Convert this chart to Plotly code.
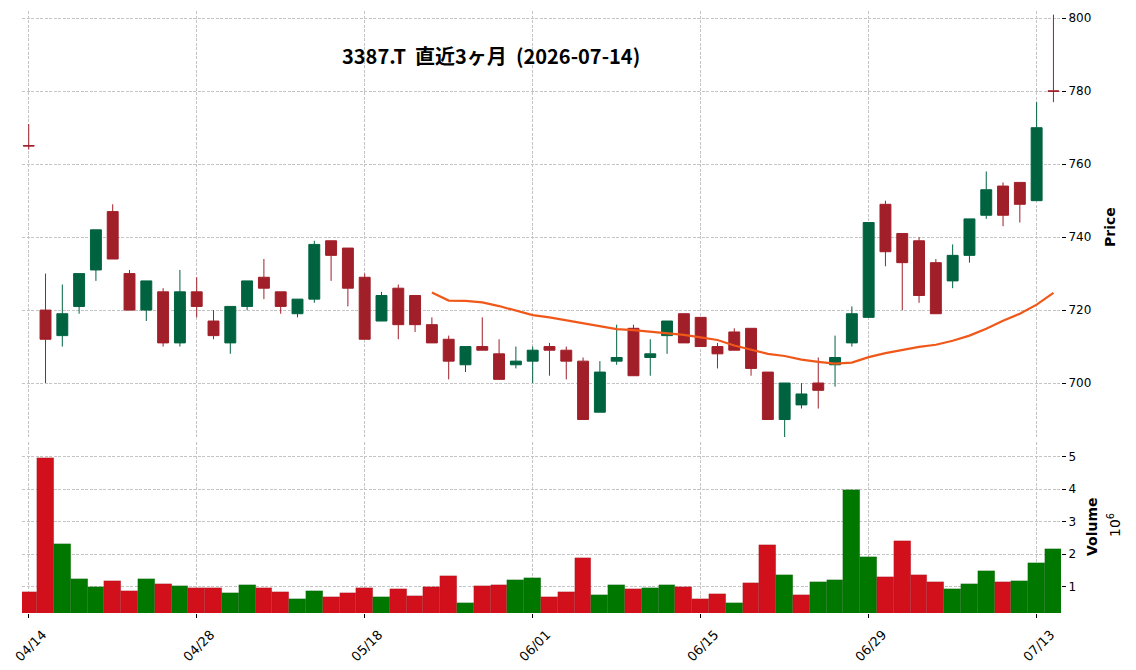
import plotly.graph_objects as go

# ---- data -------------------------------------------------------------
dates = ["04/14", "04/15", "04/16", "04/17", "04/20", "04/21", "04/22", "04/23", "04/24", "04/27",
         "04/28", "04/30", "05/01", "05/07", "05/08", "05/11", "05/12", "05/13", "05/14", "05/15",
         "05/18", "05/19", "05/20", "05/21", "05/22", "05/25", "05/26", "05/27", "05/28", "05/29",
         "06/01", "06/02", "06/03", "06/04", "06/05", "06/08", "06/09", "06/10", "06/11", "06/12",
         "06/15", "06/16", "06/17", "06/18", "06/19", "06/22", "06/23", "06/24", "06/25", "06/26",
         "06/29", "06/30", "07/01", "07/02", "07/03", "07/06", "07/07", "07/08", "07/09", "07/10",
         "07/13", "07/14"]

opens = [765.1, 720, 713, 721, 731, 747, 730, 720, 725, 711,
         725, 717, 711, 721, 729, 725, 719, 723, 739, 737,
         729, 717, 726, 724, 716, 712, 705, 710, 708, 705,
         706, 710, 709, 706, 692, 706, 715, 707, 713, 719,
         718, 710, 714, 715, 703, 690, 694, 700, 705, 711,
         718, 749, 741, 739, 733, 728, 735, 746, 754, 755,
         750, 780.1]
highs = [771, 730, 727, 730, 742, 749, 731, 728, 726, 731,
         729, 720, 721, 728, 734, 725, 723, 739, 739, 737,
         730, 725, 727, 724, 718, 713, 710, 718, 712, 710,
         710, 711, 710, 707, 706, 716, 716, 712, 717, 719,
         718, 711, 715, 715, 703, 700, 700, 707, 713, 721,
         744, 750, 741, 740, 734, 738, 745, 758, 755, 755,
         777, 801]
lows = [764, 700, 710, 719, 728, 734, 720, 717, 710, 710,
        718, 712, 708, 720, 723, 719, 718, 722, 728, 721,
        712, 717, 712, 714, 711, 701, 703, 709, 701, 704,
        700, 702, 701, 690, 692, 705, 702, 702, 708, 711,
        710, 704, 709, 702, 690, 685, 693, 693, 699, 710,
        718, 732, 720, 722, 719, 726, 733, 745, 743, 744,
        750, 777]
closes = [765, 712, 719, 730, 742, 734, 720, 728, 711, 725,
          721, 713, 721, 728, 726, 721, 723, 738, 735, 726,
          712, 724, 716, 716, 711, 706, 710, 709, 701, 706,
          709, 709, 706, 690, 703, 707, 702, 708, 717, 711,
          710, 708, 709, 704, 690, 700, 697, 698, 707, 719,
          744, 736, 733, 724, 719, 735, 745, 753, 746, 749,
          770, 780]
volumes = [850000, 4950000, 2320000, 1250000, 1000000, 1180000, 880000, 1250000, 1090000, 1030000,
           970000, 970000, 820000, 1060000, 970000, 850000, 630000, 880000, 690000, 820000,
           970000, 690000, 940000, 720000, 1000000, 1340000, 510000, 1030000, 1060000, 1220000,
           1280000, 690000, 850000, 1890000, 750000, 1060000, 940000, 970000, 1060000, 1000000,
           630000, 780000, 510000, 1120000, 2290000, 1370000, 750000, 1150000, 1220000, 3980000,
           1920000, 1310000, 2420000, 1370000, 1150000, 940000, 1090000, 1490000, 1150000, 1180000,
           1740000, 2170000]
ma25 = [None] * 24 + [724.8, 722.6, 722.5, 722.1, 721.1, 719.8,
                      718.6, 718.0, 717.2, 716.3, 715.4, 714.8, 714.5, 714.1, 713.6, 713.2,
                      712.5, 711.8, 710.3, 709.1, 708.0, 707.4, 706.4, 705.8, 705.3, 705.6,
                      707.1, 708.2, 709.1, 709.9, 710.5, 711.6, 713.0, 714.9, 717.1, 719.0,
                      721.5, 724.7]

tick_labels = ["04/14", "04/28", "05/18", "06/01", "06/15", "06/29", "07/13"]
price_ticks = [700, 720, 740, 760, 780, 800]
vol_ticks = [1000000, 2000000, 3000000, 4000000, 5000000]
vol_tick_text = ["1", "2", "3", "4", "5"]
title_text = "3387.T\u00a0\u00a0直近3ヶ月\u00a0\u00a0(2026-07-14)"

# ---- style ------------------------------------------------------------
UP = "#006340"
DOWN = "#a11f29"
VUP = "#007800"
VDOWN = "#d2101c"
MA_COLOR = "#f0581a"
GRID = "#c4c4c4"
TICKFONT = dict(family="DejaVu Sans", size=12, color="#000000")
XTICKFONT = dict(family="DejaVu Sans", size=13, color="#000000")

vol_colors = []
for i in range(len(closes)):
    ref = opens[i] if i == 0 else closes[i - 1]
    vol_colors.append(VUP if closes[i] > ref else VDOWN)

fig = go.Figure()
fig.add_trace(go.Candlestick(
    x=dates, open=opens, high=highs, low=lows, close=closes,
    increasing=dict(line=dict(color=UP, width=1), fillcolor=UP),
    decreasing=dict(line=dict(color=DOWN, width=1), fillcolor=DOWN),
    whiskerwidth=0, xaxis="x", yaxis="y", showlegend=False, hoverinfo="skip"))
fig.add_trace(go.Scatter(
    x=dates, y=ma25, mode="lines", line=dict(color=MA_COLOR, width=2.2),
    xaxis="x", yaxis="y", showlegend=False, hoverinfo="skip"))
fig.add_trace(go.Bar(
    x=dates, y=volumes, width=1.0,
    marker=dict(color=vol_colors, line=dict(color="rgba(0,0,0,0.18)", width=0.5)),
    xaxis="x", yaxis="y2", showlegend=False, hoverinfo="skip"))

W, H = 1136, 670
L, R, T, B = 22, 75, 11, 57
plot_h = H - T - B
price_bottom = (H - B - 437) / plot_h
vol_top = (H - B - 442) / plot_h


def px_x(px):
    return (px - L) / (W - L - R)


def px_y(py):
    return (H - B - py) / plot_h


fig.update_layout(
    width=W, height=H,
    margin=dict(l=L, r=R, t=T, b=B, pad=0, autoexpand=False),
    paper_bgcolor="white", plot_bgcolor="white",
    boxgap=0.35, boxgroupgap=0, bargap=0,
    xaxis=dict(type="category", range=[-0.4, 61.45], anchor="y2", automargin=False,
               tickmode="array", tickvals=tick_labels, ticktext=tick_labels,
               tickangle=-45, ticks="outside", ticklen=4, tickcolor="#000",
               ticklabelshift=14, ticklabelstandoff=4,
               tickfont=XTICKFONT, showline=False, zeroline=False,
               showgrid=True, gridcolor=GRID, gridwidth=0.8, griddash="3px,1.5px",
               rangeslider=dict(visible=False)),
    yaxis=dict(domain=[price_bottom, 1], range=[685.2, 802], side="right", anchor="x",
               automargin=False,
               tickmode="array", tickvals=price_ticks, ticks="outside", ticklen=4,
               tickcolor="#000", tickfont=TICKFONT, showline=False, zeroline=False,
               showgrid=True, gridcolor=GRID, gridwidth=0.8, griddash="3px,1.5px"),
    yaxis2=dict(domain=[0, vol_top], range=[190000, 5450000], side="right", anchor="x",
                automargin=False,
                tickmode="array", tickvals=vol_ticks, ticktext=vol_tick_text, ticks="outside",
                ticklen=4, tickcolor="#000", tickfont=TICKFONT, showline=False, zeroline=False,
                showgrid=True, gridcolor=GRID, gridwidth=0.8, griddash="3px,1.5px"),
    annotations=[
        dict(text=title_text, xref="paper", yref="paper", x=px_x(491), y=px_y(55),
             xanchor="center", yanchor="middle", showarrow=False,
             font=dict(family="Noto Sans CJK JP", size=20, color="#000", weight="bold")),
        dict(text="Price", xref="paper", yref="paper", x=px_x(1110), y=px_y(227),
             xanchor="center", yanchor="middle", showarrow=False, textangle=-90,
             font=dict(family="DejaVu Sans", size=14, color="#000", weight="bold")),
        dict(text="Volume", xref="paper", yref="paper", x=px_x(1092), y=px_y(527),
             xanchor="center", yanchor="middle", showarrow=False, textangle=-90,
             font=dict(family="DejaVu Sans", size=14, color="#000", weight="bold")),
        dict(text="10<sup>6</sup>", xref="paper", yref="paper", x=px_x(1114), y=px_y(525),
             xanchor="center", yanchor="middle", showarrow=False, textangle=-90,
             font=dict(family="DejaVu Sans", size=14, color="#000")),
    ],
)

fig.write_html("out.html")
